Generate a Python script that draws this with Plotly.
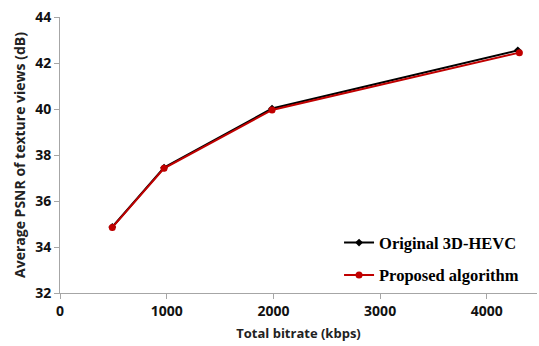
import plotly.graph_objects as go

bitrate_orig = [490, 975, 1987, 4290]
psnr_orig = [34.87, 37.45, 40.02, 42.55]
bitrate_prop = [490, 975, 1987, 4305]
psnr_prop = [34.85, 37.42, 39.96, 42.45]
names = ["Original 3D-HEVC", "Proposed algorithm"]

fig = go.Figure()
fig.add_trace(go.Scatter(x=bitrate_orig, y=psnr_orig, mode="lines+markers", name=names[0],
                         legendgroup="a",
                         line=dict(color="#000000", width=2),
                         marker=dict(symbol="diamond", size=6, color="#000000")))
fig.add_trace(go.Scatter(x=bitrate_prop, y=psnr_prop, mode="lines+markers", name=names[1],
                         legendgroup="b",
                         line=dict(color="#C00000", width=2),
                         marker=dict(symbol="circle", size=7, color="#C00000")))

fig.update_layout(
    width=539, height=346,
    margin=dict(l=60, r=2, t=17, b=53),
    plot_bgcolor="white", paper_bgcolor="white",
    xaxis=dict(range=[0, 4470], tickvals=[0, 1000, 2000, 3000, 4000],
               showline=True, linecolor="#A6A6A6", linewidth=1,
               ticks="outside", tickcolor="#A6A6A6", ticklen=5,
               showgrid=False, zeroline=False,
               tickfont=dict(family="Open Sans", size=14, color="#111111", weight="bold"),
               title=dict(text="<b>Total bitrate (kbps)</b>",
                          font=dict(family="Open Sans", size=13, color="#222222"), standoff=10)),
    yaxis=dict(range=[32, 44], tickvals=[32, 34, 36, 38, 40, 42, 44],
               showline=True, linecolor="#A6A6A6", linewidth=1,
               ticks="outside", tickcolor="#A6A6A6", ticklen=5,
               showgrid=False, zeroline=False,
               tickfont=dict(family="Open Sans", size=14, color="#111111", weight="bold"),
               title=dict(text="<b>Average PSNR of texture views (dB)</b>",
                          font=dict(family="Open Sans", size=14, color="#222222"), standoff=6)),
    legend=dict(x=0.585, y=0.245, xanchor="left", yanchor="top",
                bgcolor="rgba(0,0,0,0)",
                font=dict(family="Liberation Serif", size=16.5, color="#000000", weight="bold"),
                tracegroupgap=8, traceorder="grouped"),
)

fig.write_html("out.html")
